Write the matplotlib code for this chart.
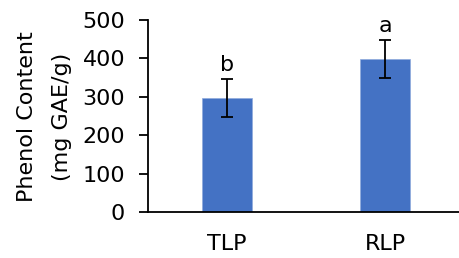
import matplotlib.pyplot as plt

# data
samples = ['TLP', 'RLP']
phenol = [297, 398]
phenol_err = [50, 50]
letters = ['b', 'a']

plt.rcParams['font.family'] = ['DejaVu Sans']
fs = 16

fig = plt.figure(figsize=(4.6, 2.58), dpi=100)
ax = fig.add_axes([148 / 460, 46 / 258, 1 - 148 / 460, 192 / 258])

x = range(len(samples))
ax.bar(x, phenol, width=0.316, color='#4472C4', edgecolor='#8FAADC', linewidth=0.5,
       yerr=phenol_err, capsize=4.5, error_kw=dict(elinewidth=1.3, capthick=1.3, ecolor='black'))

for i, (v, e, l) in enumerate(zip(phenol, phenol_err, letters)):
    ax.annotate(l, (i, v + e), xytext=(0, 3), textcoords='offset points',
                ha='center', va='bottom', fontsize=fs)

ax.set_xlim(-0.5, 1.475)
ax.set_ylim(0, 500)
ax.set_yticks([0, 100, 200, 300, 400, 500])
ax.set_xticks(list(x))
ax.set_xticklabels(samples)
ax.tick_params(axis='x', length=0, pad=16, labelsize=fs)
ax.tick_params(axis='y', length=6.5, width=1.3, labelsize=fs, pad=10)
ax.spines['top'].set_visible(False)
ax.spines['right'].set_visible(False)
ax.spines['left'].set_linewidth(1.3)
ax.spines['bottom'].set_linewidth(1.3)

# two-line y label, placed like the reference
fig.text(27 / 460, 1 - 116.5 / 258, 'Phenol Content', rotation=90,
         ha='center', va='center', fontsize=fs)
fig.text(62 / 460, 1 - 116.5 / 258, '(mg GAE/g)', rotation=90,
         ha='center', va='center', fontsize=fs)

fig.savefig('out.png', dpi=100)
